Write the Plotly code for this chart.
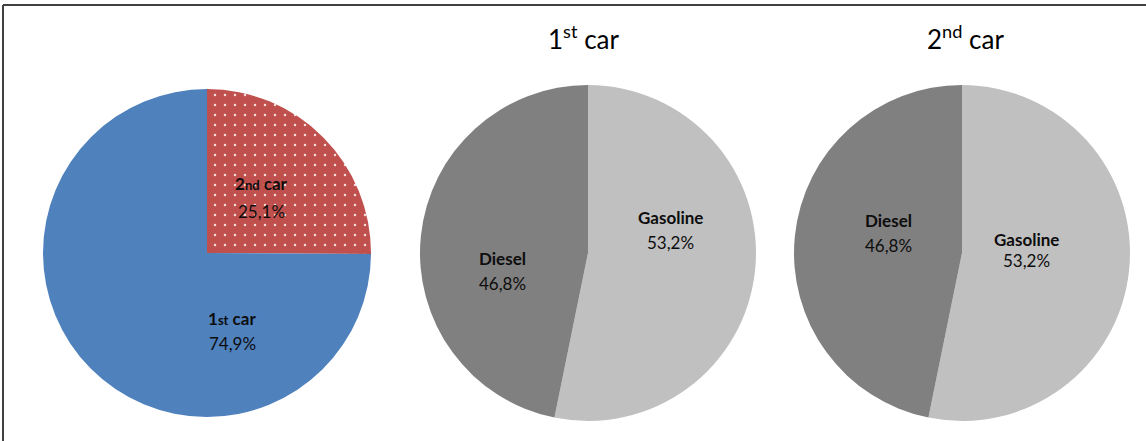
import plotly.graph_objects as go

W, H = 1146, 441

# share of households: second car vs first car
car_labels = ["2nd car", "1st car"]
car_values = [25.1, 74.9]

# fuel type split for each car
fuel_labels = ["Gasoline", "Diesel"]
fuel_first = [53.2, 46.8]
fuel_second = [53.2, 46.8]

titles = ["1<sup>st</sup> car", "2<sup>nd</sup> car"]

font_family = "Lato, Carlito, 'Open Sans', sans-serif"


def fmt_car(lbl):
    num, rest = lbl[0], lbl[1:3]
    return f"{num}<span style='font-size:13px'>{rest}</span> car"


def fmt_pct(v):
    return f"{v:.1f}%".replace(".", ",")


def domain(cx, cy, r):
    return dict(x=[(cx - r) / W, (cx + r) / W],
                y=[(H - cy - r) / H, (H - cy + r) / H])


fig = go.Figure()

fig.add_trace(go.Pie(
    labels=car_labels, values=car_values,
    textinfo="none", sort=False, direction="clockwise", rotation=0,
    marker=dict(colors=["#C0504D", "#4F81BD"], line=dict(width=0),
                pattern=dict(shape=[".", ""], fgcolor="#F4DCDB", bgcolor="#C0504D",
                             size=10, solidity=0.05, fillmode="replace")),
    hoverinfo="skip", domain=domain(207, 253, 164), showlegend=False,
))

for vals, cx in [(fuel_first, 588), (fuel_second, 962)]:
    fig.add_trace(go.Pie(
        labels=fuel_labels, values=vals, textinfo="none",
        sort=False, direction="clockwise", rotation=0,
        marker=dict(colors=["#C0C0C0", "#808080"], line=dict(width=0)),
        hoverinfo="skip", domain=domain(cx, 253, 168), showlegend=False,
    ))

# slice labels: (name, value, name-line centre x, y, value-line y) in pixels
label_specs = [
    (fmt_car(car_labels[0]), car_values[0], 261, 184, 211),
    (fmt_car(car_labels[1]), car_values[1], 232, 318, 343),
    (fuel_labels[0], fuel_first[0], 670, 218, 243),
    (fuel_labels[1], fuel_first[1], 503, 258, 283),
    (fuel_labels[0], fuel_second[0], 1026, 239, 260),
    (fuel_labels[1], fuel_second[1], 888, 220, 246),
]
for name, val, px, py, vy in label_specs:
    fig.add_annotation(text=f"<b>{name}</b>", x=px / W, y=1 - py / H,
                       xref="paper", yref="paper", xanchor="center", yanchor="middle",
                       showarrow=False,
                       font=dict(family=font_family, size=17, color="#0D0D0D"))
    fig.add_annotation(text=fmt_pct(val), x=px / W, y=1 - vy / H,
                       xref="paper", yref="paper", xanchor="center", yanchor="middle",
                       showarrow=False,
                       font=dict(family=font_family, size=17, color="#0D0D0D"))

for t, cx in zip(titles, [583, 965]):
    fig.add_annotation(text=t, x=cx / W, y=1 - 37 / H, xref="paper", yref="paper",
                       xanchor="center", yanchor="middle", showarrow=False,
                       font=dict(family=font_family, size=26, color="#000000"))

# chart frame (top and left edges)
frame = dict(color="#404040", width=2)
fig.add_shape(type="line", xref="paper", yref="paper",
              x0=3 / W, x1=1, y0=1 - 5 / H, y1=1 - 5 / H, line=frame)
fig.add_shape(type="line", xref="paper", yref="paper",
              x0=3 / W, x1=3 / W, y0=0, y1=1 - 5 / H, line=frame)

fig.update_layout(
    width=W, height=H, margin=dict(l=0, r=0, t=0, b=0),
    paper_bgcolor="white", plot_bgcolor="white",
)

fig.write_html("out.html")
